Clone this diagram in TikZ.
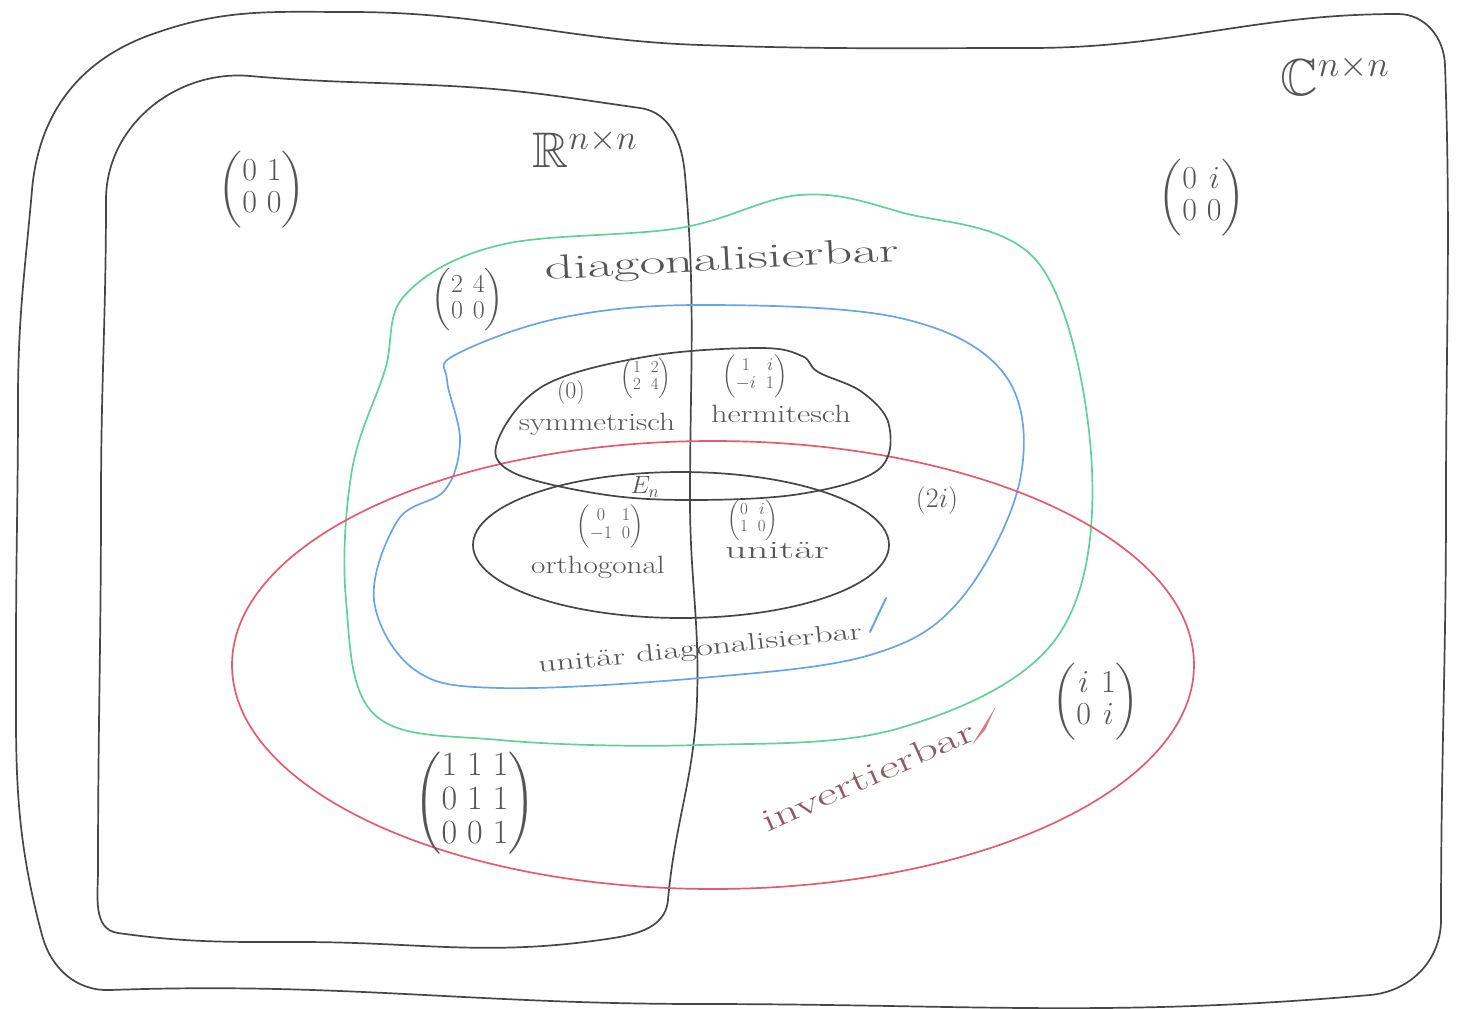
\RequirePackage{fix-cm}
\documentclass[tikz,border=0pt]{standalone}
\usepackage{amsmath,amssymb}
\definecolor{penblack}{RGB}{70,70,70}
\definecolor{pengreen}{RGB}{95,210,150}
\definecolor{penblue}{RGB}{105,165,230}
\definecolor{penred}{RGB}{230,90,110}
\definecolor{pentext}{RGB}{85,85,85}
\definecolor{redtext}{RGB}{140,90,100}
\tikzset{
  setline/.style={line width=1.7pt, line join=round},
  lbl/.style={text=pentext, inner sep=1pt, transform shape},
  fs/.style={font=\fontsize{#1}{#1}\selectfont},
}
\begin{document}
\begin{tikzpicture}[x=1pt,y=-1pt]
\useasboundingbox (0,0) rectangle (1457,1009);
% C^{n x n}
\draw[setline,penblack] (18,400) to[out=90,in=-95] (32,190)
  to[out=85,in=200] (150,35) to[out=20,in=180] (350,12)
  to[out=0,in=178] (700,45) to[out=-2,in=180] (1030,48)
  to[out=0,in=180] (1398,14) to[out=0,in=92] (1445,65)
  to[out=-88,in=90] (1446,500) to[out=-90,in=90] (1441,920)
  to[out=-90,in=5] (1370,995) to[out=185,in=0] (700,1004)
  to[out=180,in=2] (110,990) to[out=182,in=-75] (42,935)
  to[out=105,in=-90] (16,650) to[out=90,in=-90] (18,400) -- cycle;
% R^{n x n}
\draw[setline,penblack] (101,500) to[out=90,in=-90] (106,200)
  to[out=90,in=175] (250,76) to[out=-5,in=177] (450,86)
  to[out=-3,in=172] (640,108) to[out=-8,in=95] (685,175)
  to[out=-85,in=90] (690,500) to[out=-90,in=88] (697,700)
  to[out=-92,in=85] (668,900) to[out=-95,in=8] (600,940)
  to[out=188,in=0] (300,942) to[out=180,in=-8] (118,933)
  to[out=172,in=-90] (98,870) to[out=90,in=-90] (101,500) -- cycle;
% diagonalisierbar (green)
\draw[setline,pengreen] plot[smooth cycle, tension=0.6] coordinates {
 (405,295) (500,245) (680,228) (800,195) (900,212) (1040,265) (1092,470)
 (1055,640) (900,728) (700,745) (500,740) (375,715) (346,600) (352,470) (385,370)};
% unitaer diagonalisierbar (blue)
\draw[setline,penblue] plot[smooth cycle, tension=0.6] coordinates {
 (455,355) (560,318) (700,305) (900,318) (1005,375) (1020,480) (960,600)
 (870,655) (700,678) (500,688) (415,670) (374,600) (398,520) (445,490) (460,440) (447,380)};
% invertierbar (red)
\draw[setline,penred] (713,665) ellipse [x radius=481, y radius=224];
% symmetrisch / hermitesch
\draw[setline,penblack] plot[smooth cycle, tension=0.6] coordinates {
 (498,440) (545,385) (650,356) (760,348) (802,356) (818,372) (862,392)
 (889,425) (878,470) (800,494) (690,500) (600,494) (512,472)};
% orthogonal / unitaer
\draw[setline,penblack] (681,545) ellipse [x radius=208, y radius=73];
% pen ticks
\draw[penblue, line width=2pt, line cap=round] (870,632) -- (886,598);
\fill[penred!80!black, opacity=0.7] (972,745) -- (996,706) -- (985,730) -- cycle;
% labels
\node[lbl, fs=50] (Rnn) at (585,148) {$\mathbb{R}^{n\times n}$};
\node[lbl, fs=52] (Cnn) at (1335,75) {$\mathbb{C}^{n\times n}$};
\node[lbl, fs=32] (m1) at (262,190) {$\begin{pmatrix}0&1\\0&0\end{pmatrix}$};
\node[lbl, fs=32] (m2) at (1202,198) {$\begin{pmatrix}0&i\\0&0\end{pmatrix}$};
\node[lbl, fs=26] (m3) at (468,300) {$\begin{pmatrix}2&4\\0&0\end{pmatrix}$};
\node[lbl, fs=34, rotate=3, xscale=1.65] (diag) at (722,262) {diagonalisierbar};
\node[lbl, fs=24] (m0) at (571,392) {$(0)$};
\node[lbl, fs=17] (m4) at (646,378) {$\begin{pmatrix}1&2\\2&4\end{pmatrix}$};
\node[lbl, fs=18] (m5) at (755,376) {$\begin{pmatrix}1&i\\-i&1\end{pmatrix}$};
\node[lbl, fs=25, xscale=1.25] (sym) at (597,424) {symmetrisch};
\node[lbl, fs=25, xscale=1.3] (herm) at (781,414) {hermitesch};
\node[lbl, fs=25] (En) at (645,487) {$E_n$};
\node[lbl, fs=18] (m6) at (610,526) {$\begin{pmatrix}0&1\\-1&0\end{pmatrix}$};
\node[lbl, fs=17] (m7) at (753,520) {$\begin{pmatrix}0&i\\1&0\end{pmatrix}$};
\node[lbl, fs=25, xscale=1.25] (orth) at (598,567) {orthogonal};
\node[lbl, fs=25, xscale=1.7] (unit) at (777,551) {unitär};
\node[lbl, fs=28] (m8) at (937,500) {$(2i)$};
\node[lbl, fs=24, rotate=6, xscale=1.5] (udiag) at (700,650) {unitär diagonalisierbar};
\node[lbl, fs=34] (m9) at (475,803) {$\begin{pmatrix}1&1&1\\0&1&1\\0&0&1\end{pmatrix}$};
\node[lbl, fs=32, text=redtext, rotate=24, xscale=1.55] (inv) at (868,776) {invertierbar};
\node[lbl, fs=32] (m10) at (1096,702) {$\begin{pmatrix}i&1\\0&i\end{pmatrix}$};
\end{tikzpicture}
\end{document}
